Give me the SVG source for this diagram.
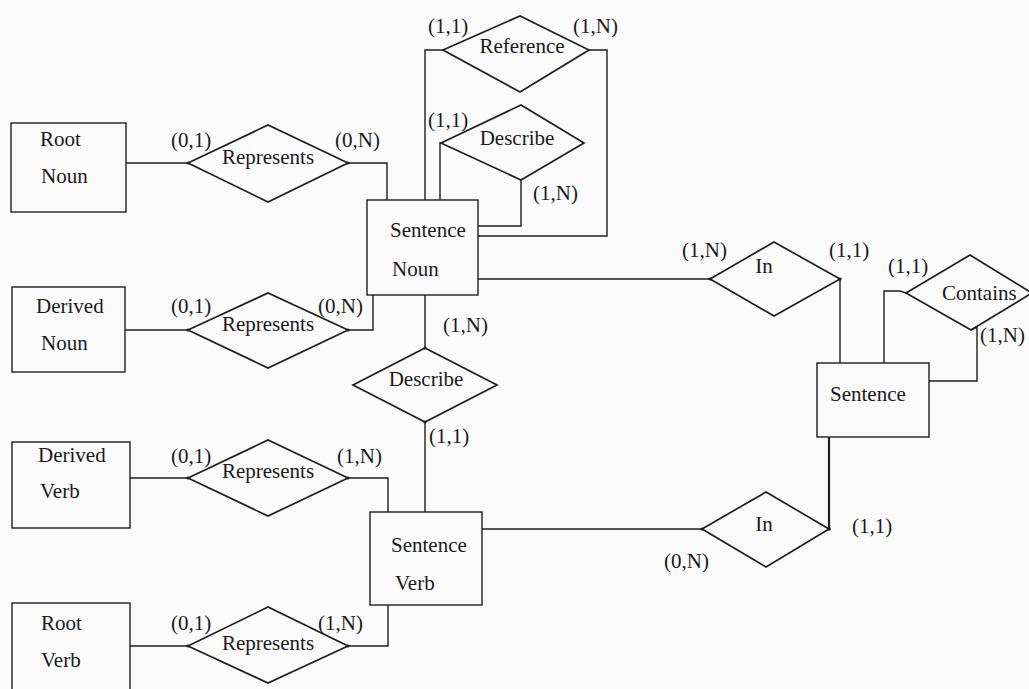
<svg xmlns="http://www.w3.org/2000/svg" width="1029" height="689" viewBox="0 0 1029 689">
  <style>
    .bg { fill: #fafafa; }
    .entity { fill: none; stroke: #1e1e1e; stroke-width: 1.4; }
    .rel { fill: none; stroke: #1e1e1e; stroke-width: 1.7; stroke-linejoin: miter; }
    .conn { fill: none; stroke: #1e1e1e; stroke-width: 1.4; }
    .thick { stroke-width: 2.2; }
    text { font-family: "Liberation Serif", "Times New Roman", serif; font-size: 21px; fill: #1a1a1a; }
    .mid { text-anchor: middle; }
    .dot { fill: #1e1e1e; }
  </style>
  <rect class="bg" x="0" y="0" width="1029" height="689"/>

  <!-- connectors -->
  <g id="connectors">
    <polyline class="conn" points="126,163 188,163"/>
    <polyline class="conn" points="348,163 387,163 387,200"/>
    <polyline class="conn" points="125,330 188,330"/>
    <polyline class="conn" points="348,330 373,330 373,295"/>
    <polyline class="conn" points="130,478 188,478"/>
    <polyline class="conn" points="348,478 388,478 388,512"/>
    <polyline class="conn" points="130,646 188,646"/>
    <polyline class="conn" points="348,646 388,646 388,605"/>
    <polyline class="conn" points="443,50 425,50 425,200"/>
    <polyline class="conn" points="589,50 607,50 607,236 478,236"/>
    <polyline class="conn" points="441,143 440,143 440,200"/>
    <polyline class="conn" points="521,180 521,226 478,226"/>
    <polyline class="conn" points="425,295 425,348"/>
    <polyline class="conn" points="425,422 425,512"/>
    <polyline class="conn" points="478,279 710,279"/>
    <polyline class="conn" points="840,279 840,363"/>
    <polyline class="conn" points="482,529 702,529"/>
    <polyline class="conn thick" points="829,529 829,437"/>
    <polyline class="conn" points="884,363 884,291 900,291 906,293"/>
    <polyline class="conn" points="971,330 977,327 977,381 929,381"/>
    <!-- small joints where lines meet the diamonds -->
    <circle class="dot" cx="188" cy="163" r="1.6"/>
    <circle class="dot" cx="348" cy="163" r="1.6"/>
    <circle class="dot" cx="188" cy="330" r="1.6"/>
    <circle class="dot" cx="348" cy="330" r="1.6"/>
    <circle class="dot" cx="188" cy="478" r="1.6"/>
    <circle class="dot" cx="348" cy="478" r="1.6"/>
    <circle class="dot" cx="188" cy="646" r="1.6"/>
    <circle class="dot" cx="348" cy="646" r="1.6"/>
    <circle class="dot" cx="425" cy="348" r="1.6"/>
    <circle class="dot" cx="425" cy="422" r="1.6"/>
    <circle class="dot" cx="710" cy="279" r="1.6"/>
    <circle class="dot" cx="840" cy="279" r="1.6"/>
    <circle class="dot" cx="702" cy="529" r="1.6"/>
    <circle class="dot" cx="829" cy="529" r="1.8"/>
  </g>

  <!-- entities -->
  <g id="root-noun">
    <rect class="entity" x="11" y="123" width="115" height="89"/>
    <text x="40" y="146">Root</text>
    <text x="41" y="183">Noun</text>
  </g>
  <g id="derived-noun">
    <rect class="entity" x="12" y="287" width="113" height="85"/>
    <text x="36" y="313">Derived</text>
    <text x="41" y="350">Noun</text>
  </g>
  <g id="derived-verb">
    <rect class="entity" x="12" y="442" width="118" height="86"/>
    <text x="38" y="462">Derived</text>
    <text x="40" y="498">Verb</text>
  </g>
  <g id="root-verb">
    <rect class="entity" x="12" y="603" width="118" height="100"/>
    <text x="41" y="630">Root</text>
    <text x="41" y="667">Verb</text>
  </g>
  <g id="sentence-noun">
    <rect class="entity" x="367" y="200" width="111" height="95"/>
    <text x="390" y="237">Sentence</text>
    <text x="392" y="276">Noun</text>
  </g>
  <g id="sentence-verb">
    <rect class="entity" x="370" y="512" width="112" height="93"/>
    <text x="391" y="552">Sentence</text>
    <text x="395" y="590">Verb</text>
  </g>
  <g id="sentence">
    <rect class="entity" x="817" y="363" width="112" height="74"/>
    <text x="830" y="401">Sentence</text>
  </g>

  <!-- relationships -->
  <g id="represents-root-noun">
    <polygon class="rel" points="188,163 268,125 348,163 268,202"/>
    <text class="mid" x="268" y="164">Represents</text>
    <text x="171" y="147">(0,1)</text>
    <text x="335" y="147">(0,N)</text>
  </g>
  <g id="represents-derived-noun">
    <polygon class="rel" points="188,330 268,293 348,330 268,368"/>
    <text class="mid" x="268" y="331">Represents</text>
    <text x="171" y="313">(0,1)</text>
    <text x="318" y="313">(0,N)</text>
  </g>
  <g id="represents-derived-verb">
    <polygon class="rel" points="188,478 268,440 348,478 268,516"/>
    <text class="mid" x="268" y="478">Represents</text>
    <text x="171" y="463">(0,1)</text>
    <text x="337" y="463">(1,N)</text>
  </g>
  <g id="represents-root-verb">
    <polygon class="rel" points="188,646 268,607 348,646 268,683"/>
    <text class="mid" x="268" y="650">Represents</text>
    <text x="171" y="630">(0,1)</text>
    <text x="318" y="630">(1,N)</text>
  </g>
  <g id="reference">
    <polygon class="rel" points="443,50 520,16 589,50 520,92"/>
    <text class="mid" x="522" y="53">Reference</text>
    <text x="428" y="33">(1,1)</text>
    <text x="573" y="33">(1,N)</text>
  </g>
  <g id="describe-noun">
    <polygon class="rel" points="441,143 521,105 584,143 521,180"/>
    <text class="mid" x="517" y="145">Describe</text>
    <text x="428" y="127">(1,1)</text>
    <text x="533" y="200">(1,N)</text>
  </g>
  <g id="describe-verb">
    <polygon class="rel" points="353,385 425,348 497,385 425,422"/>
    <text class="mid" x="426" y="386">Describe</text>
    <text x="443" y="332">(1,N)</text>
    <text x="429" y="443">(1,1)</text>
  </g>
  <g id="in-noun">
    <polygon class="rel" points="710,279 774,242 840,279 774,316"/>
    <text class="mid" x="764" y="273">In</text>
    <text x="682" y="257">(1,N)</text>
    <text x="829" y="257">(1,1)</text>
  </g>
  <g id="in-verb">
    <polygon class="rel" points="702,529 766,492 829,529 766,567"/>
    <text class="mid" x="764" y="531">In</text>
    <text x="664" y="568">(0,N)</text>
    <text x="852" y="533">(1,1)</text>
  </g>
  <g id="contains">
    <polygon class="rel" points="906,293 970,255 1032,293 971,330"/>
    <text x="942" y="300">Contains</text>
    <text x="888" y="273">(1,1)</text>
    <text x="980" y="342">(1,N)</text>
  </g>
</svg>
